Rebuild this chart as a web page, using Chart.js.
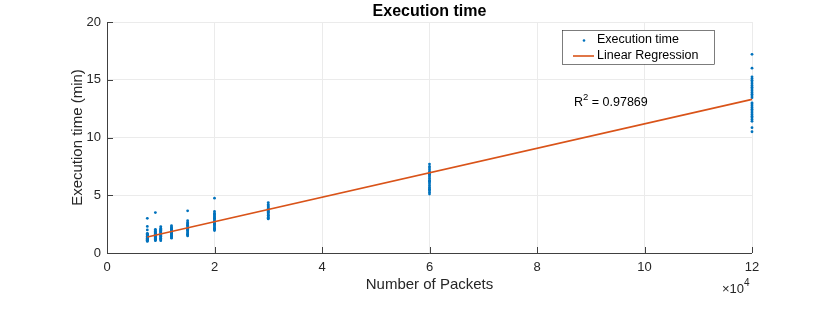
<!DOCTYPE html>
<html><head><meta charset="utf-8">
<script src="https://cdn.jsdelivr.net/npm/chart.js@4"></script>
<style>html,body{margin:0;padding:0;background:#fff}#wrap{width:830px;height:310px}</style>
</head><body><div id="wrap"><canvas id="c" width="830" height="310"></canvas></div>
<script>
const packets = [7500, 9000, 10000, 12000, 15000, 20000, 30000, 60000, 120000];
const times7500 = [1.0,1.05,1.1,1.15,1.2,1.25,1.3,1.35,1.4,1.45,1.5,1.55,1.6,1.65,1.7,1.12,1.28,1.38,1.48,1.58,2.0,2.3,3.0,1.08,1.22];
const times9000 = [1.07,1.12,1.2,1.28,1.35,1.42,1.5,1.58,1.65,1.72,1.8,1.88,1.95,2.05,1.15,1.32,1.46,1.62,3.5];
const times10000 = [1.07,1.15,1.22,1.3,1.38,1.45,1.52,1.6,1.68,1.75,1.82,1.9,1.98,2.05,2.15,2.29,1.25,1.55,1.85];
const times12000 = [1.28,1.35,1.42,1.5,1.58,1.65,1.72,1.8,1.88,1.95,2.02,2.1,2.18,2.25,2.37,1.47,1.77,2.06];
const times15000 = [1.48,1.55,1.65,1.75,1.85,1.95,2.05,2.15,2.25,2.35,2.45,2.55,2.65,2.8,3.65,1.6,2.0,2.4];
const times20000 = [1.94,2.05,2.15,2.25,2.35,2.45,2.55,2.65,2.75,2.85,2.95,3.05,3.15,3.25,3.35,3.45,3.6,4.75,2.1,2.5,3.0];
const times30000 = [2.95,3.0,3.1,3.2,3.3,3.4,3.5,3.6,3.7,3.8,3.9,4.0,4.1,4.2,4.37,3.25,3.55,3.85];
const times60000 = [5.1,5.25,5.4,5.55,5.7,5.85,6.0,6.15,6.3,6.45,6.6,6.75,6.9,7.05,7.2,7.35,7.5,7.7,5.5,6.2,6.8];
const times120000 = [10.5,10.85,11.4,11.55,11.7,11.85,12.0,12.15,12.3,12.45,12.6,12.75,12.9,13.0,13.45,13.6,13.75,13.9,14.05,14.2,14.35,14.5,14.65,14.8,14.95,15.1,15.25,16.0,17.2];
const regX = [7500, 120000];
const regY = [1.39, 13.3];
const xTicks = [0, 20000, 40000, 60000, 80000, 100000, 120000];
const yTicks = [0, 5, 10, 15, 20];
const rSquared = "0.97869";

const allTimes = [times7500, times9000, times10000, times12000, times15000, times20000, times30000, times60000, times120000];
const scatterPts = [];
packets.forEach((p, i) => allTimes[i].forEach(t => scatterPts.push({x: p, y: t})));
const regPts = regX.map((x, i) => ({x, y: regY[i]}));

const FONT = "'Liberation Sans', Arial, Helvetica, sans-serif";
const TXT = '#262626';

const deco = {
  id: 'deco',
  beforeDatasetsDraw(chart) {
    const ctx = chart.ctx, a = chart.chartArea;
    const xs = chart.scales.x, ys = chart.scales.y;
    ctx.save();
    ctx.strokeStyle = '#404040';
    ctx.lineWidth = 1;
    ctx.beginPath();
    ctx.moveTo(Math.round(a.left) + 0.5, a.top);
    ctx.lineTo(Math.round(a.left) + 0.5, Math.round(a.bottom) + 0.5);
    ctx.lineTo(a.right, Math.round(a.bottom) + 0.5);
    xTicks.forEach(v => { const px = Math.round(xs.getPixelForValue(v)) + 0.5; ctx.moveTo(px, a.bottom); ctx.lineTo(px, a.bottom - 6); });
    yTicks.forEach(v => { const py = Math.round(ys.getPixelForValue(v)) + 0.5; ctx.moveTo(a.left, py); ctx.lineTo(a.left + 6, py); });
    ctx.stroke();
    ctx.restore();
  },
  afterDraw(chart) {
    const ctx = chart.ctx, a = chart.chartArea;
    ctx.save();
    // title
    ctx.fillStyle = '#000';
    ctx.font = 'bold 16px ' + FONT;
    ctx.textAlign = 'center'; ctx.textBaseline = 'middle';
    ctx.fillText('Execution time', (a.left + a.right) / 2, 12);
    // axis titles
    ctx.fillStyle = TXT;
    ctx.font = '15px ' + FONT;
    ctx.fillText('Number of Packets', (a.left + a.right) / 2, 285);
    ctx.save();
    ctx.translate(78, (a.top + a.bottom) / 2);
    ctx.rotate(-Math.PI / 2);
    ctx.fillText('Execution time (min)', 0, 0);
    ctx.restore();
    // exponent
    ctx.font = '13px ' + FONT;
    ctx.textAlign = 'right';
    ctx.fillText('\u00d710', a.right - 8, 289);
    ctx.font = '10px ' + FONT;
    ctx.textAlign = 'left';
    ctx.fillText('4', a.right - 8, 283);
    // legend
    const lx = 562, ly = 30, lw = 152, lh = 34;
    ctx.fillStyle = '#fff';
    ctx.fillRect(lx, ly, lw, lh);
    ctx.strokeStyle = '#262626';
    ctx.lineWidth = 0.6;
    ctx.strokeRect(lx + 0.5, ly + 0.5, lw, lh);
    ctx.fillStyle = '#0072BD';
    ctx.beginPath(); ctx.arc(584, 40.5, 1.3, 0, Math.PI * 2); ctx.fill();
    ctx.strokeStyle = '#D95319'; ctx.lineWidth = 1.6;
    ctx.beginPath(); ctx.moveTo(573, 56); ctx.lineTo(594, 56); ctx.stroke();
    ctx.fillStyle = '#000';
    ctx.font = '12.5px ' + FONT;
    ctx.textAlign = 'left'; ctx.textBaseline = 'middle';
    ctx.fillText('Execution time', 597, 40);
    ctx.fillText('Linear Regression', 597, 56);
    // R^2 annotation
    ctx.font = '12.5px ' + FONT;
    ctx.fillText('R', 574, 103);
    const rw = ctx.measureText('R').width;
    ctx.font = '9.5px ' + FONT;
    ctx.fillText('2', 574 + rw, 97);
    const sw = ctx.measureText('2').width;
    ctx.font = '12.5px ' + FONT;
    ctx.fillText(' = ' + rSquared, 574 + rw + sw, 103);
    ctx.restore();
  }
};

new Chart(document.getElementById('c'), {
  type: 'scatter',
  data: {
    datasets: [
      { label: 'Execution time', data: scatterPts, backgroundColor: '#0072BD', borderColor: '#0072BD', pointRadius: 1.4, pointBorderWidth: 0, order: 2, clip: false },
      { label: 'Linear Regression', type: 'line', data: regPts, borderColor: '#D95319', borderWidth: 1.6, pointRadius: 0, fill: false, showLine: true, order: 1, clip: false }
    ]
  },
  options: {
    responsive: false,
    animation: false,
    events: [],
    layout: { padding: { left: 0, right: 78, top: 22, bottom: 0 } },
    plugins: { legend: { display: false }, title: { display: false }, tooltip: { enabled: false } },
    scales: {
      x: {
        type: 'linear', min: 0, max: 120000,
        afterBuildTicks: s => { s.ticks = xTicks.map(v => ({value: v})); },
        afterFit: s => { s.height = 57; },
        ticks: { callback: v => String(v / 10000), color: TXT, font: { family: FONT, size: 13 }, maxRotation: 0, padding: 7 },
        grid: { color: '#ebebeb', drawTicks: false, lineWidth: 1 },
        border: { display: false },
        title: { display: false }
      },
      y: {
        type: 'linear', min: 0, max: 20,
        afterBuildTicks: s => { s.ticks = yTicks.map(v => ({value: v})); },
        afterFit: s => { s.width = 107; },
        ticks: { color: TXT, font: { family: FONT, size: 13 }, padding: 6 },
        grid: { color: '#ebebeb', drawTicks: false, lineWidth: 1 },
        border: { display: false },
        title: { display: false }
      }
    }
  },
  plugins: [deco]
});
</script></body></html>
